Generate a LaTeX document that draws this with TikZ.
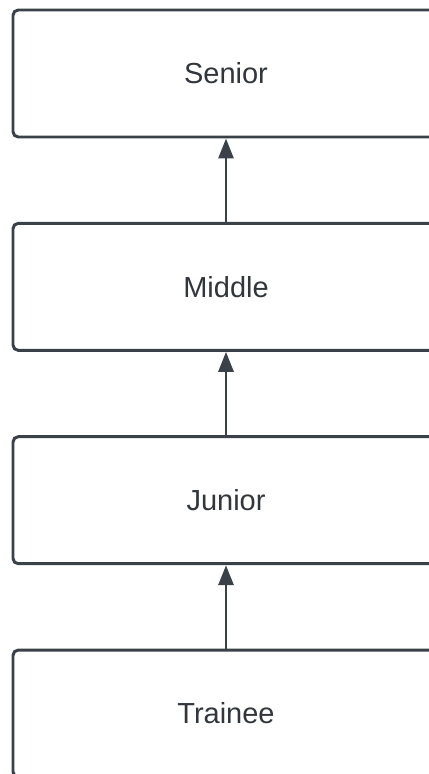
\documentclass[tikz,border=0pt]{standalone}
\usepackage{fontspec}
\setmainfont{Liberation Sans}
\usetikzlibrary{arrows.meta,positioning}
\definecolor{ink}{HTML}{3A4149}
\definecolor{inktext}{HTML}{30363C}
\tikzset{
  level/.style={draw=ink, line width=1.7pt, rounded corners=3pt, minimum width=8.52cm, minimum height=2.54cm, inner sep=0pt, font=\fontsize{16.5}{20}\selectfont, text=inktext},
  arr/.style={-{Triangle[length=0.4cm,width=0.3cm]}, line width=1.7pt, draw=ink},
}
\begin{document}
\begin{tikzpicture}
  \useasboundingbox (0,0) rectangle (8.56,-15.48);
  \foreach \i/\t in {1/Senior,2/Middle,3/Junior,4/Trainee} {
    \node[level] (l\i) at (4.52,{-1.47-(\i-1)*4.267}) {\t};
  }
  \foreach \i/\j in {2/1,3/2,4/3}
    \draw[arr] (l\i) -- (l\j);
\end{tikzpicture}
\end{document}
